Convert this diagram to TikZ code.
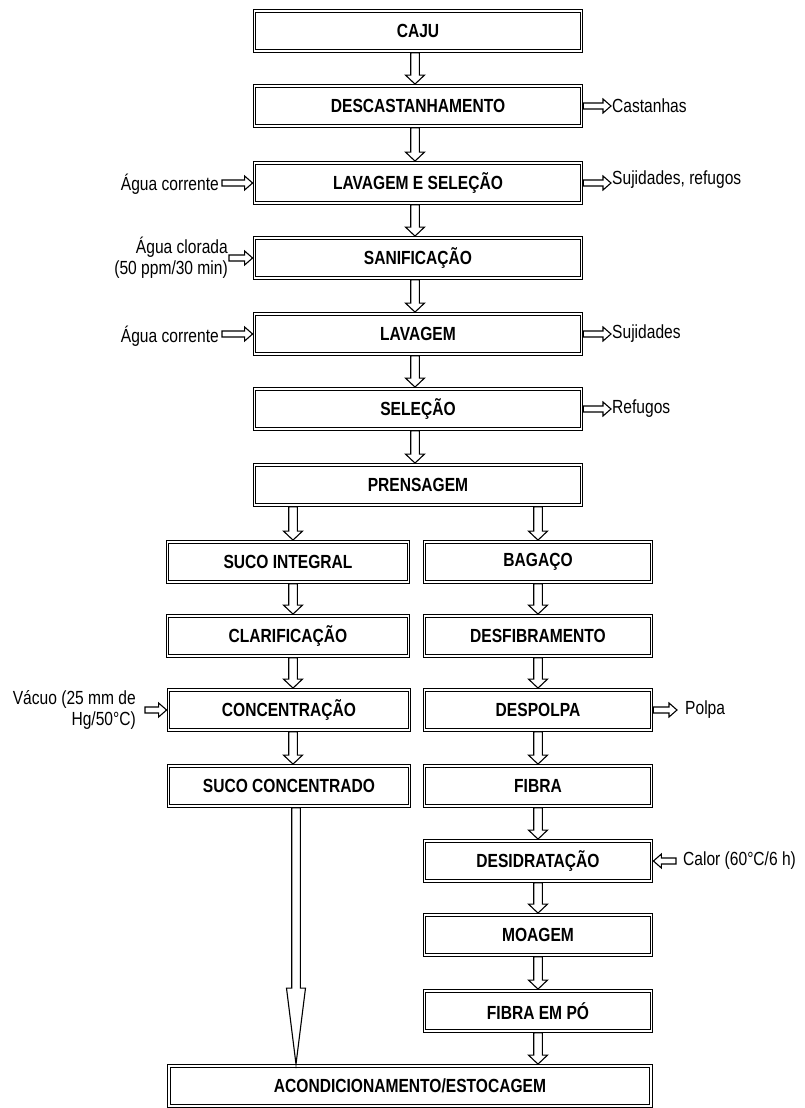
\documentclass[tikz,border=0pt]{standalone}
\usepackage{fontspec}
\setmainfont{Liberation Sans}[FakeStretch=0.82]
\usetikzlibrary{calc}

\tikzset{
  box/.style={draw, double, double distance=1.4pt, line width=1.2pt, outer sep=1.9pt, inner sep=0pt,
    minimum height=40pt, font=\fontsize{19}{22}\selectfont\bfseries},
  mainbox/.style={box, minimum width=327pt},
  lbox/.style={box, minimum width=241pt},
  rbox/.style={box, minimum width=227pt},
  flow/.style={line width=1.1pt, line join=miter},
  lbl/.style={inner sep=1pt, font=\fontsize{19}{21}\selectfont}
}

% hollow arrows: down (on the line of #4), right, left
\newcommand{\vflow}[4][9pt]{%
  \draw[flow] let \p1=(#2.south -| #4), \p2=(#3.north -| #4) in
    (\x1-4.3pt,\y1) -- (\x1-4.3pt,\y2+#1) -- (\x1-9.5pt,\y2+#1) -- (\x2,\y2)
    -- (\x1+9.5pt,\y2+#1) -- (\x1+4.3pt,\y2+#1) -- (\x1+4.3pt,\y1) -- cycle;
}
\newcommand{\rflow}[2]{%
  \draw[flow] let \p1=(#1), \p2=(#2) in
    (\x1,\y1+3pt) -- (\x2-8pt,\y1+3pt) -- (\x2-8pt,\y1+7pt) -- (\x2,\y1)
    -- (\x2-8pt,\y1-7pt) -- (\x2-8pt,\y1-3pt) -- (\x1,\y1-3pt) -- cycle;
}
\newcommand{\lflow}[2]{%
  \draw[flow] let \p1=(#1), \p2=(#2) in
    (\x1,\y1+3pt) -- (\x2+8pt,\y1+3pt) -- (\x2+8pt,\y1+7pt) -- (\x2,\y1)
    -- (\x2+8pt,\y1-7pt) -- (\x2+8pt,\y1-3pt) -- (\x1,\y1-3pt) -- cycle;
}

\begin{document}
\begin{tikzpicture}[x=1pt,y=1pt]
\useasboundingbox (0,0) rectangle (805,-1108);

% main column
\node[mainbox] (caju) at (418,-31) {CAJU};
\node[mainbox] (desc) at (418,-106) {DESCASTANHAMENTO};
\node[mainbox] (lavsel) at (418,-183) {LAVAGEM E SELEÇÃO};
\node[mainbox] (sanif) at (418,-258) {SANIFICAÇÃO};
\node[mainbox] (lavagem) at (418,-334) {LAVAGEM};
\node[mainbox] (selecao) at (418,-409) {SELEÇÃO};
\node[mainbox] (prensa) at (418,-485) {PRENSAGEM};

% left column
\node[lbox] (suco) at (288,-562) {SUCO INTEGRAL};
\node[lbox] (clarif) at (288,-636) {CLARIFICAÇÃO};
\node[lbox] (concent) at (289,-710) {CONCENTRAÇÃO};
\node[lbox] (sucoconc) at (289,-786) {SUCO CONCENTRADO};

% right column
\node[rbox] (bagaco) at (538,-562) {BAGAÇO};
\node[rbox] (desfib) at (538,-636) {DESFIBRAMENTO};
\node[rbox] (despolpa) at (538,-710) {DESPOLPA};
\node[rbox] (fibra) at (538,-786) {FIBRA};
\node[rbox] (desid) at (538,-861) {DESIDRATAÇÃO};
\node[rbox] (moagem) at (538,-935) {MOAGEM};
\node[rbox] (fibrapo) at (538,-1011) {FIBRA EM PÓ};

\node[box, minimum width=482pt] (acond) at (410,-1086) {ACONDICIONAMENTO/ESTOCAGEM};

% side labels
\node[lbl, anchor=west] (castanhas) at (611,-106) {Castanhas};
\node[lbl, anchor=west] (sujref) at (611,-180) {Sujidades, refugos};
\node[lbl, anchor=west] (sujidades) at (611,-334) {Sujidades};
\node[lbl, anchor=west] (refugos) at (611,-409) {Refugos};
\node[lbl, anchor=west, inner xsep=8pt] (polpa) at (677,-710) {Polpa};
\node[lbl, anchor=west, inner xsep=7pt] (calor) at (676,-861) {Calor (60°C/6 h)};
\node[lbl, anchor=east, inner xsep=3pt] (agua1) at (222,-184) {Água corrente};
\node[lbl, anchor=east, align=right] (agua2) at (229,-258) {Água clorada\\(50 ppm/30 min)};
\node[lbl, anchor=east, inner xsep=3pt] (agua3) at (222,-336) {Água corrente};
\node[lbl, anchor=east, align=right, inner xsep=9pt] (vacuo) at (145,-710) {Vácuo (25 mm de\\Hg/50°C)};

% lines of the arrows
\coordinate (mx) at (415,0);
\coordinate (lx) at (293,0);
\coordinate (rx) at (538,0);
\coordinate (cx) at (296,0);

% main flow
\vflow{caju}{desc}{mx}
\vflow{desc}{lavsel}{mx}
\vflow{lavsel}{sanif}{mx}
\vflow{sanif}{lavagem}{mx}
\vflow{lavagem}{selecao}{mx}
\vflow{selecao}{prensa}{mx}
\vflow{prensa}{suco}{lx}
\vflow{prensa}{bagaco}{rx}
\vflow{suco}{clarif}{lx}
\vflow{clarif}{concent}{lx}
\vflow{concent}{sucoconc}{lx}
\vflow{bagaco}{desfib}{rx}
\vflow{desfib}{despolpa}{rx}
\vflow{despolpa}{fibra}{rx}
\vflow{fibra}{desid}{rx}
\vflow{desid}{moagem}{rx}
\vflow{moagem}{fibrapo}{rx}
\vflow{fibrapo}{acond}{rx}
\vflow[76pt]{sucoconc}{acond}{cx}

% inputs and outputs
\rflow{desc.east}{castanhas.west}
\rflow{lavsel.east}{sujref.west |- lavsel}
\rflow{lavagem.east}{sujidades.west}
\rflow{selecao.east}{refugos.west}
\rflow{despolpa.east}{polpa.west}
\lflow{calor.west}{desid.east}
\rflow{agua1.east |- lavsel}{lavsel.west}
\rflow{agua2.east |- sanif}{sanif.west}
\rflow{agua3.east |- lavagem}{lavagem.west}
\rflow{vacuo.east |- concent}{concent.west}
\end{tikzpicture}
\end{document}
